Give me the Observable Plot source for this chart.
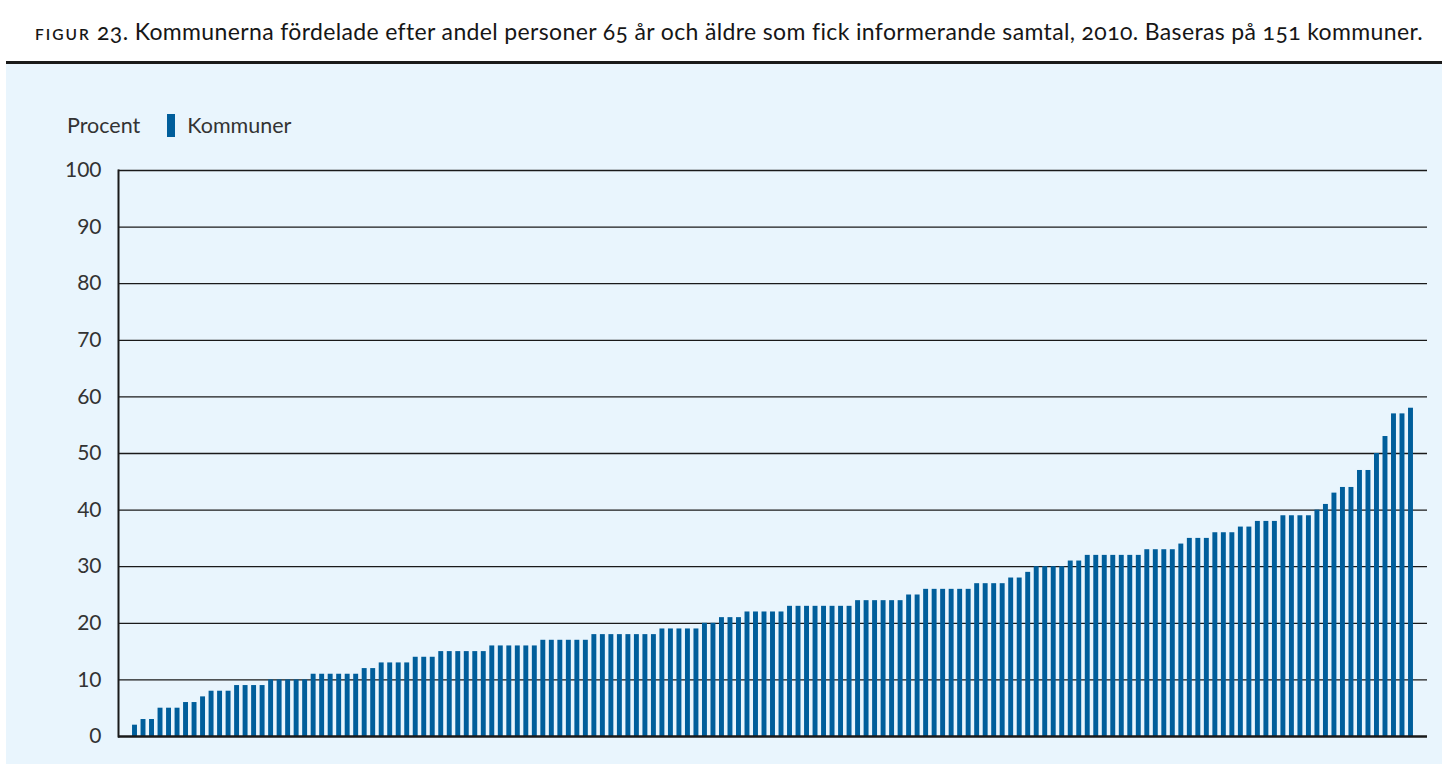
<!DOCTYPE html>
<html>
<head>
<meta charset="utf-8">
<script src="https://cdn.jsdelivr.net/npm/d3@7"></script>
<script src="https://cdn.jsdelivr.net/npm/@observablehq/plot@0.6"></script>
<style>
  body { margin: 0; background: #ffffff; font-family: Lato, "Open Sans", sans-serif; }
  #page { position: relative; width: 1442px; height: 764px; overflow: hidden; background: #fff; }
  #title { position: absolute; left: 35px; top: 17px; font-size: 23px; letter-spacing: 0.36px; color: #161616; white-space: nowrap; font-variant-numeric: oldstyle-nums; }
  #title .sc { font-size: 15.5px; letter-spacing: 2px; font-weight: 600; }
  #rule { position: absolute; left: 6px; right: 0; top: 61px; height: 3px; background: #1a1a1a; }
  #panel { position: absolute; left: 6px; right: 0; top: 64px; bottom: 0; background: #e9f5fd; }
  #legend { position: absolute; left: 67px; top: 112px; font-size: 21.5px; color: #333; display: flex; align-items: center; }
  #legend .sw { display: inline-block; width: 8px; height: 23px; background: #005e9b; margin-left: 27px; margin-right: 12px; }
  #chart { position: absolute; left: 0; top: 150px; }
</style>
</head>
<body>
<div id="page">
  <div id="title"><span class="sc">FIGUR</span> 23. Kommunerna fördelade efter andel personer 65 år och äldre som fick informerande samtal, 2010. Baseras på 151 kommuner.</div>
  <div id="rule"></div>
  <div id="panel"></div>
  <div id="legend"><span>Procent</span><span class="sw"></span><span>Kommuner</span></div>
  <div id="chart"></div>
</div>
<script>
// Andel (%) per kommun, sorterade stigande (151 kommuner)
const values = [
  2,
  3, 3,
  5, 5, 5,
  6, 6,
  7,
  8, 8, 8,
  9, 9, 9, 9,
  10, 10, 10, 10, 10,
  11, 11, 11, 11, 11, 11,
  12, 12,
  13, 13, 13, 13,
  14, 14, 14,
  15, 15, 15, 15, 15, 15,
  16, 16, 16, 16, 16, 16,
  17, 17, 17, 17, 17, 17,
  18, 18, 18, 18, 18, 18, 18, 18,
  19, 19, 19, 19, 19,
  20, 20,
  21, 21, 21,
  22, 22, 22, 22, 22,
  23, 23, 23, 23, 23, 23, 23, 23,
  24, 24, 24, 24, 24, 24,
  25, 25,
  26, 26, 26, 26, 26, 26,
  27, 27, 27, 27,
  28, 28,
  29,
  30, 30, 30, 30,
  31, 31,
  32, 32, 32, 32, 32, 32, 32,
  33, 33, 33, 33,
  34,
  35, 35, 35,
  36, 36, 36,
  37, 37,
  38, 38, 38,
  39, 39, 39, 39,
  40,
  41,
  43,
  44, 44,
  47, 47,
  50,
  53,
  57, 57,
  58
];
const kommuner = values.map((v, i) => i + 1);
const yTicks = [0, 10, 20, 30, 40, 50, 60, 70, 80, 90, 100];

const table = kommuner.map((k, i) => ({kommun: k, andel: values[i]}));

const chart = Plot.plot({
  width: 1442,
  height: 614,
  marginLeft: 118,
  marginRight: 15,
  marginTop: 20,
  marginBottom: 28,
  style: {background: "transparent", fontFamily: "Lato, 'Open Sans', sans-serif", fontSize: "21px", color: "#333"},
  x: {domain: kommuner, paddingInner: 0.42, paddingOuter: 1.65, axis: null},
  y: {domain: [0, 100], axis: null},
  marks: [
    Plot.ruleY(yTicks.filter(d => d > 0), {stroke: "#1a1a1a", strokeWidth: 1.3}),
    Plot.barY(table, {x: "kommun", y: "andel", fill: "#005e9b"}),
    Plot.ruleY([0], {stroke: "#1a1a1a", strokeWidth: 2.5}),
    Plot.frame({anchor: "left", stroke: "#1a1a1a", strokeWidth: 2}),
    Plot.axisY(yTicks, {tickSize: 0, tickPadding: 17, label: null, fill: "#333", fontSize: 21})
  ]
});
document.getElementById("chart").appendChild(chart);
</script>
</body>
</html>
